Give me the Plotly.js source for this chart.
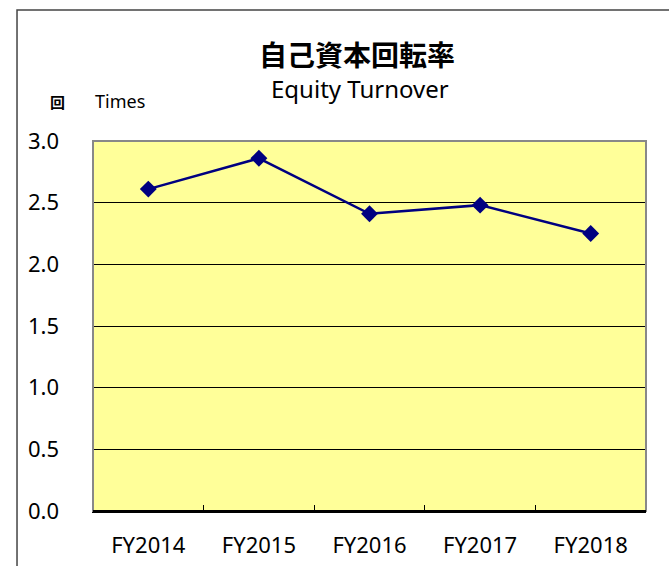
<!DOCTYPE html>
<html>
<head>
<meta charset="utf-8">
<script src="https://cdn.plot.ly/plotly-3.0.1.min.js"></script>
<style>html,body{margin:0;padding:0;background:#fff;}#chart{width:669px;height:566px;}</style>
</head>
<body>
<div id="chart"></div>
<script>
const categories = ["FY2014", "FY2015", "FY2016", "FY2017", "FY2018"];
const equityTurnover = [2.61, 2.86, 2.41, 2.48, 2.25];
const yTickVals = [0, 0.5, 1.0, 1.5, 2.0, 2.5, 3.0];
const titleJa = "自己資本回転率";
const titleEn = "Equity Turnover";
const unitJa = "回";
const unitEn = "Times";

const latin = "'Noto Sans', 'DejaVu Sans', sans-serif";
const cjk = "'Noto Sans CJK JP', 'Noto Sans', sans-serif";

const trace = {
  x: categories,
  y: equityTurnover,
  type: "scatter",
  mode: "lines+markers",
  line: {color: "#000080", width: 2.5},
  marker: {symbol: "diamond", size: 13, color: "#000080"},
  hoverinfo: "x+y"
};

const layout = {
  width: 669,
  height: 566,
  margin: {l: 93, r: 23, t: 141, b: 55},
  paper_bgcolor: "#ffffff",
  plot_bgcolor: "#FFFF99",
  showlegend: false,
  font: {family: latin, color: "#000"},
  xaxis: {
    type: "category",
    range: [-0.5, categories.length - 0.5],
    tickson: "boundaries",
    ticks: "inside",
    ticklen: 6,
    tickcolor: "#000",
    tickwidth: 1,
    showgrid: false,
    showline: true,
    linecolor: "#000",
    linewidth: 2,
    tickfont: {family: latin, size: 22, color: "#000"},
    ticklabelstandoff: 14,
    fixedrange: true
  },
  yaxis: {
    range: [0, 3],
    tickvals: yTickVals,
    tickformat: ".1f",
    ticks: "",
    showgrid: true,
    gridcolor: "#000",
    gridwidth: 1,
    zeroline: false,
    showline: true,
    linecolor: "#333",
    linewidth: 1.5,
    tickfont: {family: latin, size: 22, color: "#000"},
    ticklabelstandoff: 28,
    fixedrange: true
  },
  shapes: [
    {type: "rect", xref: "paper", yref: "paper", x0: 0, x1: 1, y0: 0, y1: 1,
     line: {color: "#888", width: 2}, layer: "above"},
    {type: "line", xref: "paper", yref: "paper", x0: 0, x1: 1, y0: 0, y1: 0,
     line: {color: "#000", width: 2}, layer: "above"},
    {type: "rect", xref: "paper", yref: "paper", x0: -0.1374, x1: 1.3, y0: -0.4, y1: 1.354,
     line: {color: "#444", width: 1.5}, layer: "above"}
  ],
  annotations: [
    {text: "<b>" + titleJa + "</b>", xref: "paper", yref: "paper", x: 0.4765, y: 1.235,
     xanchor: "center", yanchor: "middle", showarrow: false,
     font: {family: cjk, size: 28, color: "#000"}},
    {text: titleEn, xref: "paper", yref: "paper", x: 0.483, y: 1.143,
     xanchor: "center", yanchor: "middle", showarrow: false,
     font: {family: latin, size: 24, color: "#000"}},
    {text: "<b>" + unitJa + "</b>", xref: "paper", yref: "paper", x: -0.065, y: 1.108,
     xanchor: "center", yanchor: "middle", showarrow: false,
     font: {family: cjk, size: 15, color: "#000"}},
    {text: unitEn, xref: "paper", yref: "paper", x: 0.049, y: 1.108,
     xanchor: "center", yanchor: "middle", showarrow: false,
     font: {family: latin, size: 18, color: "#000"}}
  ]
};

Plotly.newPlot("chart", [trace], layout, {displayModeBar: false, staticPlot: true});
</script>
</body>
</html>
